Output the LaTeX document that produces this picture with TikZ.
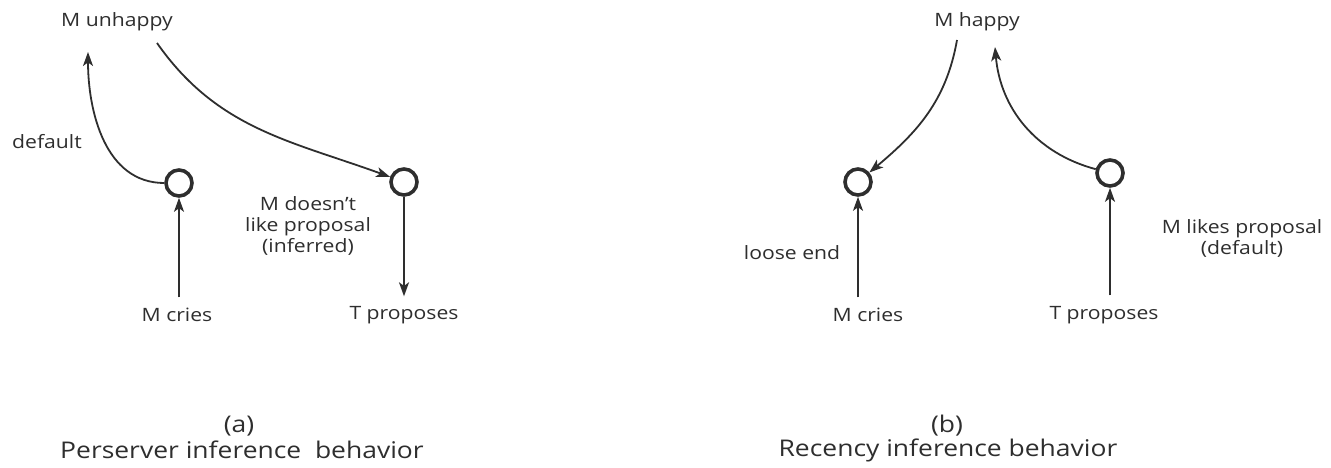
\documentclass[tikz,border=0pt]{standalone}
\usepackage{fontspec}
\setmainfont{Open Sans}[FakeStretch=1.15]
\usetikzlibrary{arrows.meta}
\definecolor{ink}{gray}{0.18}
\begin{document}
\begin{tikzpicture}[x=0.5pt,y=0.5pt,color=ink,line width=0.9pt,
  >={Stealth[length=7pt,width=5pt,inset=1.8pt]},
  lbl/.style={font=\fontsize{9.2}{10.5}\selectfont,align=center,inner sep=1pt},
  captext/.style={font=\fontsize{11.5}{13}\selectfont,align=center,inner sep=0pt},
  knot/.style={circle,draw,line width=1.8pt,minimum size=13pt,inner sep=0pt}]
\useasboundingbox (0,0) rectangle (1331,467);
\node[lbl] (unhappy) at (117,445) {M unhappy};
\node[lbl] (default) at (47,325) {default};
\node[knot] (c1) at (179,284) {};
\node[knot] (c2) at (404,285) {};
\node[lbl] (doesnt) at (308,241) {M doesn't\\like proposal\\(inferred)};
\node[lbl] (cries1) at (177,152) {M cries};
\node[lbl] (tprop1) at (404,152) {T proposes};
\node[captext] (capa) at (239,41) {(a)};
\node[captext] (perserver) at (242,17) {Perserver inference~~behavior};
\node[lbl] (happy) at (977,445) {M happy};
\node[knot] (c3) at (858,285) {};
\node[knot] (c4) at (1110,294) {};
\node[lbl] (loose) at (792,214) {loose end};
\node[lbl] (cries2) at (868,152) {M cries};
\node[lbl] (tprop2) at (1104,152) {T proposes};
\node[lbl] (likes) at (1242,229) {M likes proposal\\(default)};
\node[captext] (capb) at (947,41) {(b)};
\node[captext] (recency) at (948,17) {Recency inference behavior};
\coordinate (u1) at (88,415);
\coordinate (u2) at (157,424);
\coordinate (h1) at (957,427);
\coordinate (h2) at (995,420);
\draw[->] (c1) to[out=180,in=-90] (u1);
\draw[->] (u2) to[out=-55,in=160] (c2);
\draw[->,shorten <=4pt] (cries1.north -| c1) -- (c1);
\draw[->,shorten >=3.5pt] (c2) -- (tprop1.north -| c2);
\draw[->] (h1) to[out=-100,in=40] (c3);
\draw[->] (c4) to[out=165,in=-85] (h2);
\draw[->,shorten <=4pt] (cries2.north -| c3) -- (c3);
\draw[->,shorten <=4pt] (tprop2.north -| c4) -- (c4);
\end{tikzpicture}
\end{document}
